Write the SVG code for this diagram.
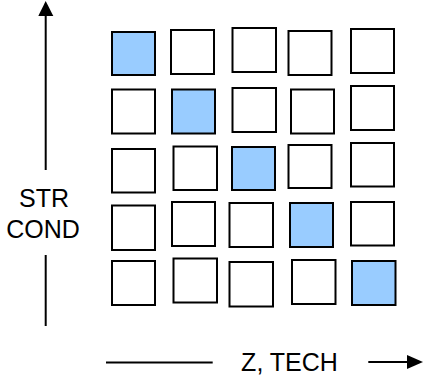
<svg xmlns="http://www.w3.org/2000/svg" width="425" height="376" viewBox="0 0 425 376">
<style>
.b{fill:#fff;stroke:#000;stroke-width:2}
.h{fill:#99ccff;stroke:#000;stroke-width:2}
.ax{stroke:#000;stroke-width:2;fill:none}
.t{font-family:"Liberation Sans",Arial,sans-serif;font-size:25px;fill:#000}
</style>
<rect width="425" height="376" fill="#fff"/>
<g id="connectors">
<line class="ax" x1="45.7" y1="170" x2="45.7" y2="14"/>
<polygon points="45.7,1 38.3,16 53.3,16" fill="#000"/>
<line class="ax" x1="45.7" y1="255" x2="45.7" y2="326"/>
<line class="ax" x1="106" y1="362.5" x2="212.7" y2="362.5"/>
<line class="ax" x1="368.3" y1="362" x2="410" y2="362"/>
<polygon points="423,362 407,355 407,369" fill="#000"/>
</g>
<g id="labels">
<text class="t" x="44" y="206.5" text-anchor="middle">STR</text>
<text class="t" x="43" y="238" text-anchor="middle">COND</text>
<text class="t" x="289.5" y="371" text-anchor="middle">Z, TECH</text>
</g>
<g id="r1">
<rect id="n11" class="h" x="112" y="32" width="43" height="43"/>
<rect id="n12" class="b" x="171" y="30" width="43" height="44"/>
<rect id="n13" class="b" x="232.5" y="28" width="43.5" height="44"/>
<rect id="n14" class="b" x="288.5" y="31" width="43" height="44"/>
<rect id="n15" class="b" x="351" y="29" width="43" height="44"/>
</g>
<g id="r2">
<rect id="n21" class="b" x="112" y="89.5" width="43" height="44"/>
<rect id="n22" class="h" x="172" y="89.5" width="43" height="44"/>
<rect id="n23" class="b" x="232.5" y="88" width="43.5" height="44"/>
<rect id="n24" class="b" x="291" y="89.5" width="43" height="44"/>
<rect id="n25" class="b" x="351" y="86" width="43" height="44"/>
</g>
<g id="r3">
<rect id="n31" class="b" x="112" y="149" width="43" height="43.5"/>
<rect id="n32" class="b" x="173.5" y="146.5" width="43.5" height="43.5"/>
<rect id="n33" class="h" x="232" y="147" width="43" height="43"/>
<rect id="n34" class="b" x="288.5" y="145" width="43" height="43"/>
<rect id="n35" class="b" x="351" y="143" width="43" height="43.5"/>
</g>
<g id="r4">
<rect id="n41" class="b" x="112" y="205.5" width="43" height="44.5"/>
<rect id="n42" class="b" x="172" y="202" width="43" height="44"/>
<rect id="n43" class="b" x="229.5" y="203" width="43.5" height="44"/>
<rect id="n44" class="h" x="290" y="203" width="43" height="44"/>
<rect id="n45" class="b" x="351" y="202" width="43" height="43.5"/>
</g>
<g id="r5">
<rect id="n51" class="b" x="112" y="261" width="43" height="44"/>
<rect id="n52" class="b" x="173.5" y="258.5" width="43.5" height="44"/>
<rect id="n53" class="b" x="229.5" y="262" width="43.5" height="44.5"/>
<rect id="n54" class="b" x="292" y="260" width="43.5" height="44"/>
<rect id="n55" class="h" x="352" y="261" width="43.5" height="44"/>
</g>
</svg>
